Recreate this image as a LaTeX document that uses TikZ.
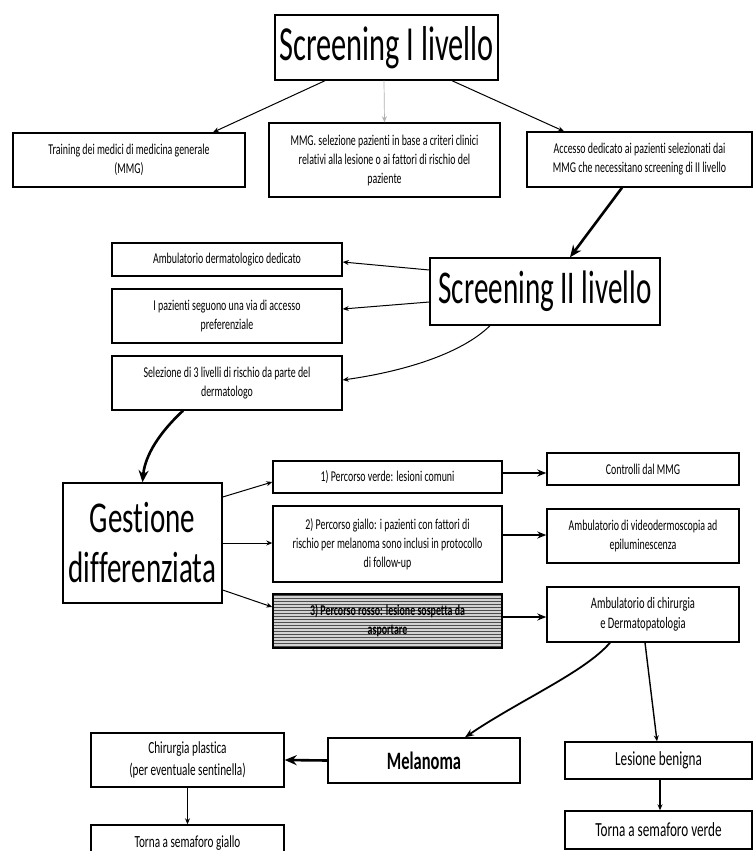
\documentclass[tikz,border=0pt]{standalone}
\usepackage{fontspec}
\setmainfont{Carlito}[FakeStretch=0.66,Ligatures={NoCommon,TeX}]
\newfontfamily\bigfont{Carlito}[FakeStretch=0.62,Ligatures={NoCommon,TeX}]
\usetikzlibrary{arrows.meta,patterns,calc}
\begin{document}
\begin{tikzpicture}[x=1pt,y=-1pt,
  box/.style={draw,line width=1.4pt,align=center,inner sep=2pt,font=\fontsize{15}{19}\selectfont},
  arrthin/.style={line width=1pt,-{Stealth[length=6pt,width=5pt]}},
  arrmed/.style={line width=1.8pt,-{Stealth[length=9pt,width=7pt]}},
  arrthick/.style={line width=2.6pt,-{Stealth[length=12pt,width=10pt]}}]
\clip (0,0) rectangle (754,851);
\fill[white] (0,0) rectangle (754,851);

% top level
\node[box,minimum width=223pt,minimum height=65pt,font=\bigfont\fontsize{49}{55}\selectfont] (SI) at (386.5,47.5) {Screening I livello};
\node[box,minimum width=232pt,minimum height=54pt] (Tr) at (129,160) {Training dei medici di medicina generale\\(MMG)};
\node[box,minimum width=231pt,minimum height=74pt] (MMG) at (384.5,160) {MMG. selezione pazienti in base a criteri clinici\\relativi alla lesione o ai fattori di rischio del\\paziente};
\node[box,minimum width=225pt,minimum height=55pt] (Acc) at (639.5,159.5) {Accesso dedicato ai pazienti selezionati dai\\MMG che necessitano screening di II livello};

% second level
\node[box,minimum width=230pt,minimum height=67pt,font=\bigfont\fontsize{47}{52}\selectfont] (SII) at (545,291.5) {Screening II livello};
\node[box,minimum width=230pt,minimum height=33pt] (Amb) at (227,259.5) {Ambulatorio dermatologico dedicato};
\node[box,minimum width=230pt,minimum height=54pt] (Paz) at (227,316) {I pazienti seguono una via di accesso\\preferenziale};
\node[box,minimum width=230pt,minimum height=54pt] (Sel) at (227,383) {Selezione di 3 livelli di rischio da parte del\\dermatologo};

% gestione
\node[box,minimum width=159pt,minimum height=120pt,font=\fontsize{44}{50}\selectfont] (Ges) at (142.5,543) {Gestione\\differenziata};
\node[box,minimum width=229pt,minimum height=32pt] (P1) at (387.5,477) {1) Percorso verde: lesioni comuni};
\node[box,minimum width=229pt,minimum height=76pt] (P2) at (387.5,544) {2) Percorso giallo: i pazienti con fattori di\\rischio per melanoma sono inclusi in protocollo\\di follow-up};
\node[box,minimum width=229pt,minimum height=54pt,preaction={fill=gray!35},pattern=horizontal lines,pattern color=black!70,font=\bfseries\fontsize{15}{19}\selectfont] (P3) at (387.5,621) {3) Percorso rosso: lesione sospetta da\\asportare};
\node[box,minimum width=192pt,minimum height=32pt] (Con) at (643,469) {Controlli dal MMG};
\node[box,minimum width=192pt,minimum height=54pt] (Vid) at (643,536) {Ambulatorio di videodermoscopia ad\\epiluminescenza};
\node[box,minimum width=192pt,minimum height=55pt,font=\fontsize{16}{20}\selectfont] (Chi) at (643,614.5) {Ambulatorio di chirurgia\\e Dermatopatologia};

% bottom
\node[box,minimum width=192pt,minimum height=45pt,font=\bfseries\fontsize{25}{30}\selectfont] (Mel) at (424,760.5) {Melanoma};
\node[box,minimum width=187pt,minimum height=37pt,font=\fontsize{20}{24}\selectfont] (Les) at (658.5,760.5) {Lesione benigna};
\node[box,minimum width=193pt,minimum height=54pt,font=\fontsize{17}{22}\selectfont] (Pla) at (187.5,760) {Chirurgia plastica\\(per eventuale sentinella)};
\node[box,minimum width=193pt,minimum height=36pt,font=\fontsize{17}{22}\selectfont] (ToG) at (187.5,843) {Torna a semaforo giallo};
\node[box,minimum width=187pt,minimum height=38pt,font=\fontsize{20}{24}\selectfont] (ToV) at (658.5,830) {Torna a semaforo verde};

% connectors
\draw[arrthin] ([xshift=-61.5pt]SI.south) -- ([xshift=84pt]Tr.north);
\draw[arrthin,draw=gray!60,line width=0.7pt] ([xshift=-2.5pt]SI.south) -- (MMG.north);
\draw[arrthin] ([xshift=65.5pt]SI.south) -- ([xshift=-75.5pt]Acc.north);
\draw[arrthick] ([xshift=-17.5pt]Acc.south) -- ([xshift=25pt]SII.north);

\draw[arrthin] ([yshift=21.5pt]SII.west) -- ([yshift=-2.5pt]Amb.east);
\draw[arrthin] ([yshift=-10.5pt]SII.west) -- ([yshift=7pt]Paz.east);
\draw[arrthin] ([xshift=-55pt]SII.south) .. controls (460,355) and (400,372) .. ([yshift=3pt]Sel.east);
\draw[arrthick] ([xshift=-44pt]Sel.south) .. controls (160,432) and (145,455) .. (Ges.north);

\draw[arrthin] ([yshift=46pt]Ges.east) -- ([yshift=-5pt]P1.west);
\draw[arrthin] (Ges.east) -- (Ges.east -| P2.west);
\draw[arrthin] ([yshift=-47pt]Ges.east) -- ([yshift=14pt]P3.west);

\draw[arrmed] ([yshift=4pt]P1.east) -- ([yshift=4pt]P1.east -| Con.west);
\draw[arrmed] ([yshift=9pt]P2.east) -- ([yshift=9pt]P2.east -| Vid.west);
\draw[arrmed] ([yshift=4pt]P3.east) -- ([yshift=4pt]P3.east -| Chi.west);

\draw[arrmed] ([xshift=-33pt]Chi.south) .. controls (585,672) and (520,700) .. ([xshift=41pt]Mel.north);
\draw[arrthin,line width=1.4pt] ([xshift=2pt]Chi.south) -- ([xshift=-1.5pt]Les.north);
\draw[arrthick] (Mel.west) -- (Pla.east);
\draw[arrthin,line width=1.4pt] (Pla.south) -- (ToG.north);
\draw[arrthin,line width=1.4pt] ([xshift=1.5pt]Les.south) -- ([xshift=1.5pt]ToV.north);
\end{tikzpicture}
\end{document}
